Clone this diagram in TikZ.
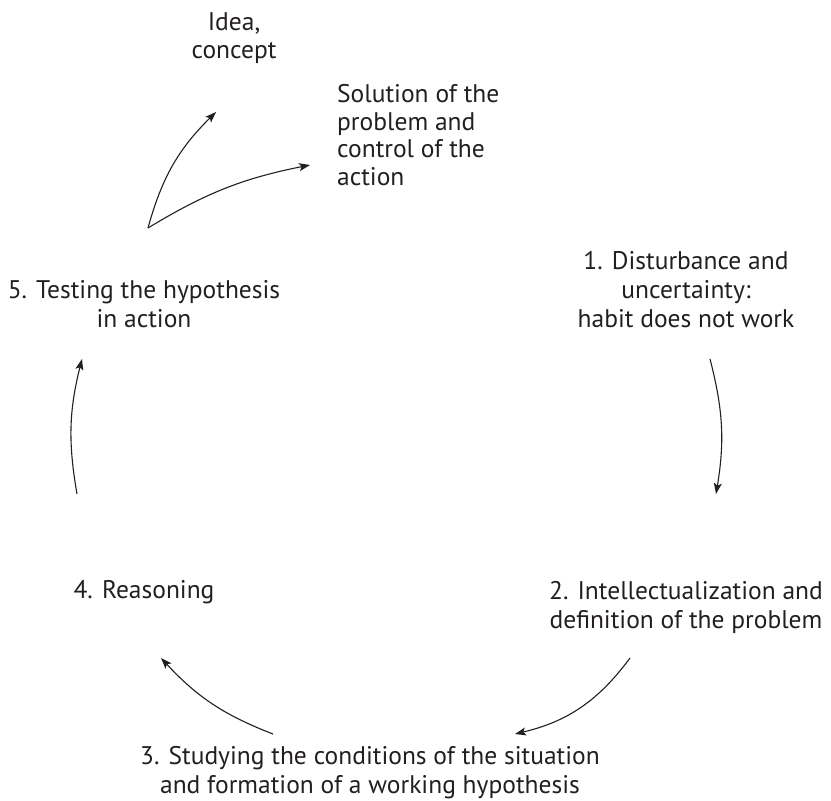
\documentclass[tikz,border=0pt]{standalone}
\usepackage{fontspec}
\setmainfont{PT Sans}
\usetikzlibrary{arrows.meta}
\definecolor{ink}{HTML}{231F20}
\begin{document}
\begin{tikzpicture}[x=1pt,y=1pt,
  lbl/.style={text=ink, inner sep=0pt, align=center, font=\fontsize{25.5}{29}\selectfont, anchor=base},
  arr/.style={draw=ink, line width=1.1pt, -{Stealth[length=11pt,width=8pt,inset=2.5pt]}}]
\useasboundingbox (0,0) rectangle (831,-801);
% labels (anchor base = baseline of the last line)
\node[lbl, font=\fontsize{25.5}{28}\selectfont] (idea) at (234,-58) {Idea,\\concept};
\node[lbl, align=left, anchor=base west, font=\fontsize{25.5}{27.5}\selectfont] (sol) at (337,-185) {Solution of the\\problem and\\control of the\\action};
\node[lbl] (test) at (144,-327) {5. Testing the hypothesis\\in action};
\node[lbl] (dist) at (686,-327) {1. Disturbance and\\uncertainty:\\habit does not work};
\node[lbl] (reas) at (144,-598) {4. Reasoning};
\node[lbl] (intel) at (686,-628) {2. Intellectualization and\\definition of the problem};
\node[lbl] (study) at (370,-793) {3. Studying the conditions of the situation\\and formation of a working hypothesis};
% arrow end points
\coordinate (v) at (148,-228);
\coordinate (ideaE) at (216,-112);
\coordinate (solE) at (310,-165);
\coordinate (a1s) at (710,-359);
\coordinate (a1e) at (716,-494);
\coordinate (a2s) at (630,-658);
\coordinate (a2e) at (515,-734);
\coordinate (a3s) at (273,-734);
\coordinate (a3e) at (161,-658);
\coordinate (a4s) at (77,-494);
\coordinate (a4e) at (82,-359);
% arrows
\draw[arr] (v) to[bend left=15] (ideaE);
\draw[arr] (v) to[bend left=10] (solE);
\draw[arr] (a1s) to[bend left=12] (a1e);
\draw[arr] (a2s) to[bend left=20] (a2e);
\draw[arr] (a3s) to[bend left=13] (a3e);
\draw[arr] (a4s) to[bend left=12] (a4e);
\end{tikzpicture}
\end{document}
